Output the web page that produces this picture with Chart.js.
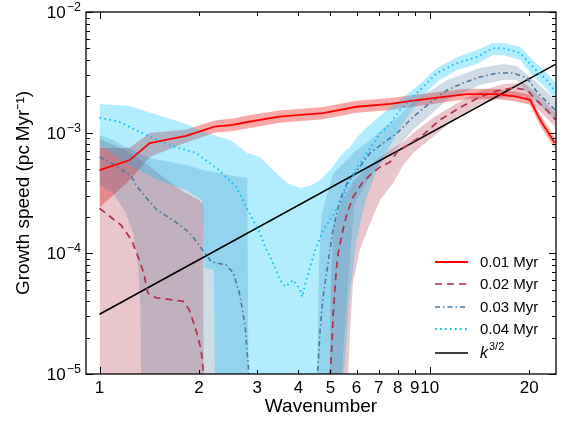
<!DOCTYPE html>
<html>
<head>
<meta charset="utf-8">
<title>Growth speed vs wavenumber</title>
<script src="https://cdn.jsdelivr.net/npm/chart.js@4.4.1/dist/chart.umd.min.js"></script>
<style>
  html, body { margin: 0; padding: 0; background: #fff; }
  #wrap { width: 564px; height: 428px; }
</style>
</head>
<body>
<div id="wrap"><canvas id="growthChart" width="564" height="428"></canvas></div>
<script>
// ---- values (wavenumber k, growth speed in pc/Myr) ----
const seriesLabels = ['0.01 Myr', '0.02 Myr', '0.03 Myr', '0.04 Myr'];

// 0.01 Myr (solid red) and its spread
const k01  = [1, 1.23, 1.42, 1.83, 2.23, 2.53, 2.78, 3.5, 4.75, 6, 7.6, 8.9, 12.9, 16, 18.3, 20.1, 21.6, 23.9];
const v01  = [4.9e-4, 5.9e-4, 8.2e-4, 9.4e-4, 1.12e-3, 1.16e-3, 1.22e-3, 1.36e-3, 1.45e-3, 1.64e-3, 1.73e-3, 1.84e-3, 2.09e-3, 2.09e-3, 1.99e-3, 1.87e-3, 1.27e-3, 8.2e-4];
const hi01 = [7.46e-4, 7.46e-4, 9.94e-4, 1.06e-3, 1.26e-3, 1.31e-3, 1.38e-3, 1.53e-3, 1.63e-3, 1.84e-3, 1.94e-3, 2.05e-3, 2.31e-3, 2.3e-3, 2.18e-3, 2.05e-3, 1.4e-3, 9.1e-4];
const lo01 = [2.4e-4, 4.0e-4, 6.3e-4, 8.3e-4, 1.0e-3, 1.03e-3, 1.08e-3, 1.21e-3, 1.29e-3, 1.46e-3, 1.54e-3, 1.64e-3, 1.89e-3, 1.9e-3, 1.81e-3, 1.7e-3, 1.14e-3, 7.4e-4];

// 0.02 Myr (dashed dark red)
const k02 = [1, 1.16, 1.25, 1.31, 1.36, 1.4, 1.48, 1.73, 1.79, 1.87, 1.96, 2.03, 2.06, 2.1,
             4.95, 5.0, 5.06, 5.1, 5.21, 5.28, 5.43, 5.62, 5.86, 6.24, 6.6, 7.07, 7.58, 7.96, 9.55, 10.7, 12.4, 14.2, 16, 17.9, 19.7, 21.1, 22.6, 24];
const v02 = [2.36e-4, 1.72e-4, 1.29e-4, 9.3e-5, 6.9e-5, 4.7e-5, 4.3e-5, 4.05e-5, 4.0e-5, 3.4e-5, 2.3e-5, 1.6e-5, 1.08e-5, 5e-6,
             5e-6, 1.02e-5, 1.9e-5, 3.2e-5, 7.3e-5, 1.0e-4, 1.47e-4, 2.16e-4, 2.93e-4, 3.83e-4, 4.46e-4, 5.2e-4, 5.7e-4, 6.9e-4, 9.6e-4, 1.27e-3, 1.63e-3, 1.98e-3, 2.22e-3, 2.35e-3, 2.26e-3, 1.84e-3, 1.54e-3, 1.28e-3];
const kB02  = [1, 1.2, 1.4, 1.6, 1.8, 2.0, 2.06, 2.07, 4.98, 5.0, 5.1, 5.43, 5.66, 5.73, 5.85, 6.14, 6.6, 7.07, 7.75, 8.31, 8.9, 10.2, 12.1, 14.2, 16.7, 19.3, 21.1, 24];
const hi02  = [8.86e-4, 7.18e-4, 5.4e-4, 4.06e-4, 3.22e-4, 2.77e-4, 2.52e-4, 1e-6, 1e-6, 4.1e-5, 1.65e-4, 2.77e-4, 3.35e-4, 3.48e-4, 3.9e-4, 4.46e-4, 5.4e-4, 6.29e-4, 7.46e-4, 8.37e-4, 9.94e-4, 1.32e-3, 1.76e-3, 2.21e-3, 2.53e-3, 2.58e-3, 2.09e-3, 1.46e-3];
const lo02  = [1e-6, 1e-6, 1e-6, 1e-6, 1e-6, 1e-6, 1e-6, 1e-6, 1e-6, 1e-6, 1e-6, 1e-6, 1.0e-5, 2.19e-5, 5.68e-5, 1.07e-4, 1.78e-4, 2.77e-4, 3.83e-4, 5.4e-4, 6.78e-4, 9.21e-4, 1.35e-3, 1.73e-3, 1.97e-3, 2.01e-3, 1.6e-3, 1.11e-3];

// 0.03 Myr (dash-dot steel blue)
const k03 = [1, 1.14, 1.25, 1.29, 1.34, 1.49, 1.61, 1.71, 1.83, 1.92, 2.18, 2.42, 2.54, 2.65, 2.72, 2.76, 2.82, 2.86,
             4.5, 4.59, 4.66, 4.75, 4.92, 5.1, 5.35, 5.62, 6.03, 6.6, 7.22, 7.96, 8.9, 10, 11.3, 12.6, 14.2, 16, 17.9, 19.7, 21.1, 22.6, 24];
const v03 = [6.3e-4, 5.2e-4, 4.3e-4, 3.7e-4, 3.2e-4, 2.3e-4, 2.0e-4, 1.8e-4, 1.56e-4, 1.36e-4, 8.5e-5, 8.0e-5, 6.9e-5, 4.7e-5, 3.2e-5, 2.45e-5, 1.2e-5, 5e-6,
             5e-6, 1.23e-5, 2.45e-5, 4.35e-5, 8.3e-5, 1.62e-4, 2.77e-4, 3.83e-4, 4.9e-4, 6.8e-4, 8.2e-4, 9.9e-4, 1.35e-3, 1.76e-3, 2.26e-3, 2.58e-3, 2.89e-3, 3.12e-3, 3.12e-3, 2.84e-3, 2.17e-3, 1.8e-3, 1.54e-3];
const kB03  = [1, 1.1, 1.2, 1.265, 1.31, 1.33, 1.345, 1.42, 1.83, 2.05, 2.3, 2.55, 2.8, 2.84, 4.5, 4.56, 4.62, 4.7, 5.1, 5.42, 5.6, 5.9, 6.5, 7.22, 8.0, 8.9, 11.3, 14.2, 16.7, 18.3, 20.7, 24];
const hi03  = [9.56e-4, 8.69e-4, 7.6e-4, 7.18e-4, 6.78e-4, 6.65e-4, 6.53e-4, 6.17e-4, 5.4e-4, 4.91e-4, 4.63e-4, 4.37e-4, 4.21e-4, 1e-6, 1e-6, 1.0e-5, 8.81e-5, 2.08e-4, 4.63e-4, 5.4e-4, 5.93e-4, 6.91e-4, 8.37e-4, 1.09e-3, 1.35e-3, 1.8e-3, 2.73e-3, 3.43e-3, 3.71e-3, 3.57e-3, 2.73e-3, 1.87e-3];
const lo03  = [3.68e-4, 3.16e-4, 2.16e-4, 1.47e-4, 7.7e-5, 3.39e-5, 1e-6, 1e-6, 1e-6, 1e-6, 1e-6, 1e-6, 1e-6, 1e-6, 1e-6, 1e-6, 1e-6, 1e-6, 1e-6, 1.0e-5, 4.1e-5, 2.52e-4, 4.06e-4, 5.93e-4, 7.6e-4, 1.05e-3, 1.87e-3, 2.48e-3, 2.73e-3, 2.73e-3, 1.87e-3, 1.27e-3];

// 0.04 Myr (dotted cyan)
const k04 = [1, 1.15, 1.29, 1.62, 1.96, 2.3, 2.59, 2.78, 3.06, 3.17, 3.29, 3.4, 3.52, 3.65, 3.86, 4.05, 4.11, 4.19, 4.34, 4.5,
             4.66, 4.75, 5.0, 5.35, 5.86, 6.46, 7.07, 7.43, 8.13, 9.33, 10.5, 12.1, 13.9, 15.5, 16.7, 18.8, 20.5, 22.6, 24];
const v04 = [1.33e-3, 1.23e-3, 1.05e-3, 7.9e-4, 6.8e-4, 4.9e-4, 3.55e-4, 2.42e-4, 1.47e-4, 1.13e-4, 9.3e-5, 7.6e-5, 6.0e-5, 5.3e-5, 6.0e-5, 5.0e-5, 4.35e-5, 5.5e-5, 7.7e-5, 1.07e-4,
             1.36e-4, 1.56e-4, 1.9e-4, 2.61e-4, 4.63e-4, 6.8e-4, 9.9e-4, 1.11e-3, 1.54e-3, 2.26e-3, 3.12e-3, 3.78e-3, 4.24e-3, 5.03e-3, 5.0e-3, 4.57e-3, 3.5e-3, 2.73e-3, 2.17e-3];
const kB04  = [1, 1.23, 1.5, 1.83, 2.04, 2.08, 2.22, 2.25, 2.49, 2.8, 3.06, 3.35, 3.7, 4.05, 4.34, 4.66, 4.99, 5.4, 5.5, 5.7, 6.0, 6.4, 7.0, 7.6, 8.13, 9.33, 10.5, 12.1, 13.9, 15.5, 16.7, 18.8, 20.5, 22.6, 24];
const hi04  = [1.73e-3, 1.66e-3, 1.4e-3, 1.18e-3, 1.03e-3, 1.01e-3, 9.56e-4, 9.38e-4, 8.69e-4, 6.78e-4, 6.29e-4, 4.91e-4, 3.83e-4, 3.48e-4, 3.61e-4, 4.06e-4, 4.91e-4, 6.53e-4, 6.91e-4, 7.46e-4, 9.03e-4, 1.09e-3, 1.35e-3, 1.63e-3, 1.87e-3, 2.53e-3, 3.43e-3, 4.24e-3, 4.84e-3, 5.53e-3, 5.53e-3, 5.13e-3, 4.0e-3, 3.12e-3, 2.58e-3];
const lo04  = [7.91e-4, 5.4e-4, 4.06e-4, 3.35e-4, 2.77e-4, 7.56e-5, 7.28e-5, 1e-6, 1e-6, 1e-6, 1e-6, 1e-6, 1e-6, 1e-6, 1e-6, 1e-6, 1e-6, 1e-6, 1.0e-5, 4.1e-5, 1.29e-4, 2.77e-4, 5.4e-4, 7.91e-4, 1.11e-3, 1.87e-3, 2.63e-3, 3.31e-3, 3.71e-3, 4.4e-3, 4.4e-3, 4.0e-3, 2.95e-3, 2.3e-3, 1.87e-3];

// reference power law k^{3/2}
const kPow = [1, 24];
const vPow = [3.13e-5, 3.68e-3];

// axis ticks
const xTickValues = [1, 2, 3, 4, 5, 6, 7, 8, 9, 10, 20];
const xMajorTicks = [1, 10];
const yDecades = [-5, -4, -3, -2];

const FONT = '"Liberation Sans", Arial, Helvetica, sans-serif';

const pts = (k, v) => k.map((x, i) => ({ x, y: v[i] }));

function lineSet(label, k, v, color, width, dash) {
    return {
        label, data: pts(k, v), borderColor: color, borderWidth: width,
        borderDash: dash, pointRadius: 0, fill: false, tension: 0
    };
}

function bandSets(k, hi, lo, color) {
    return [
        { label: 'band', data: pts(k, hi), backgroundColor: color, borderColor: 'rgba(0,0,0,0)', borderWidth: 0, pointRadius: 0, fill: '+1', tension: 0 },
        { label: 'band', data: pts(k, lo), borderColor: 'rgba(0,0,0,0)', borderWidth: 0, pointRadius: 0, fill: false, tension: 0 }
    ];
}

// lines first so they sit above every band; among bands, lower index is drawn on top
const datasets = [
    lineSet(seriesLabels[0], k01, v01, '#ff0000', 1.8, []),
    lineSet(seriesLabels[1], k02, v02, '#b0304a', 1.7, [7, 5]),
    lineSet(seriesLabels[2], k03, v03, '#4a78a0', 1.6, [5, 3, 1.5, 3]),
    lineSet(seriesLabels[3], k04, v04, '#00bfff', 1.8, [1.6, 3.4]),
    lineSet('k^{3/2}', kPow, vPow, '#000000', 1.6, []),
    ...bandSets(kB04, hi04, lo04, 'rgba(0,191,255,0.3)'),
    ...bandSets(kB03, hi03, lo03, 'rgba(70,110,150,0.25)'),
    ...bandSets(kB02, hi02, lo02, 'rgba(175,45,65,0.27)'),
    ...bandSets(k01, hi01, lo01, 'rgba(240,30,30,0.38)')
];

// inward ticks, box, y labels with superscripts and the legend
const axisDecor = {
    id: 'axisDecor',
    afterDraw(chart) {
        const { ctx, chartArea: a, scales: { x, y } } = chart;
        ctx.save();
        ctx.strokeStyle = '#000';
        ctx.lineWidth = 1;
        const seg = (x1, y1, x2, y2) => { ctx.beginPath(); ctx.moveTo(x1, y1); ctx.lineTo(x2, y2); ctx.stroke(); };

        xTickValues.forEach(v => {
            const px = Math.round(x.getPixelForValue(v)) + 0.5;
            const len = xMajorTicks.includes(v) ? 7 : 4;
            seg(px, a.bottom, px, a.bottom - len);
            seg(px, a.top, px, a.top + len);
        });
        yDecades.forEach(d => {
            for (let m = 1; m <= 9; m++) {
                const v = m * Math.pow(10, d);
                if (v > y.max * 1.0001) break;
                const py = Math.round(y.getPixelForValue(v)) + 0.5;
                const len = m === 1 ? 7 : 4;
                seg(a.left, py, a.left + len, py);
                seg(a.right, py, a.right - len, py);
            }
        });
        ctx.lineWidth = 1.3;
        ctx.strokeRect(a.left, a.top, a.right - a.left, a.bottom - a.top);

        // y tick labels: 10 with a raised exponent
        ctx.fillStyle = '#000';
        ctx.textBaseline = 'alphabetic';
        yDecades.forEach(d => {
            const py = y.getPixelForValue(Math.pow(10, d));
            const exp = '\u2212' + Math.abs(d);
            ctx.font = '12.5px ' + FONT;
            const ew = ctx.measureText(exp).width;
            const right = a.left - 5;
            ctx.textAlign = 'left';
            ctx.fillText(exp, right - ew, py - 1);
            ctx.font = '17px ' + FONT;
            ctx.textAlign = 'right';
            ctx.fillText('10', right - ew - 1, py + 6);
        });

        // legend, lower right inside the axes
        const rowY = [a.bottom - 112, a.bottom - 90, a.bottom - 67, a.bottom - 45, a.bottom - 21];
        const x0 = a.right - 121, x1 = a.right - 88, tx = a.right - 76;
        rowY.forEach((ry, i) => {
            const ds = chart.data.datasets[i];
            ctx.strokeStyle = ds.borderColor;
            ctx.lineWidth = ds.borderWidth;
            ctx.setLineDash(ds.borderDash);
            seg(x0, ry, x1, ry);
            ctx.setLineDash([]);
            ctx.fillStyle = '#000';
            ctx.textAlign = 'left';
            ctx.textBaseline = 'middle';
            if (i < 4) {
                ctx.font = '15px ' + FONT;
                ctx.fillText(ds.label, tx, ry + 1);
            } else {
                ctx.font = 'italic 16px ' + FONT;
                ctx.fillText('k', tx, ry + 1);
                const kw = ctx.measureText('k').width;
                ctx.font = '11px ' + FONT;
                ctx.fillText('3/2', tx + kw + 1, ry - 6);
            }
        });
        ctx.restore();
    }
};

new Chart(document.getElementById('growthChart'), {
    type: 'line',
    data: { datasets },
    plugins: [axisDecor],
    options: {
        responsive: false,
        animation: false,
        layout: { padding: { top: 12, right: 8, left: 0, bottom: 0 } },
        plugins: {
            legend: { display: false },
            tooltip: { enabled: false },
            filler: { propagate: false }
        },
        scales: {
            x: {
                type: 'logarithmic',
                min: 0.91,
                max: 24.1,
                grid: { display: false, drawTicks: false },
                border: { display: false },
                afterBuildTicks: (s) => { s.ticks = xTickValues.map(v => ({ value: v })); },
                afterFit: (s) => { s.height = 54; },
                ticks: {
                    autoSkip: false,
                    maxRotation: 0,
                    padding: 4,
                    color: '#000',
                    font: { family: FONT, size: 17 },
                    callback: (v) => String(v)
                },
                title: {
                    display: true,
                    text: 'Wavenumber',
                    color: '#000',
                    font: { family: FONT, size: 19 },
                    padding: { top: 0, bottom: 10 }
                }
            },
            y: {
                type: 'logarithmic',
                min: 1e-5,
                max: 1e-2,
                grid: { display: false, drawTicks: false },
                border: { display: false },
                ticks: { display: false },
                afterFit: (s) => { s.width = 86; },
                title: {
                    display: true,
                    text: 'Growth speed (pc\u2009Myr\u207B\u00B9)',
                    color: '#000',
                    font: { family: FONT, size: 19 },
                    padding: { top: 12, bottom: 0 }
                }
            }
        }
    }
});
</script>
</body>
</html>
